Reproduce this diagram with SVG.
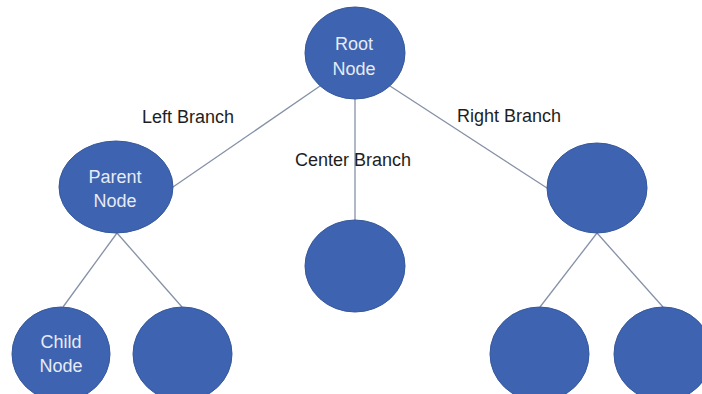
<svg xmlns="http://www.w3.org/2000/svg" width="702" height="394" viewBox="0 0 702 394">
  <style>
    .node { fill: #3e63b0; stroke: #35589c; stroke-width: 1; }
    .node-text { font-family: "Liberation Sans", Arial, sans-serif; font-size: 18px; fill: #e6ebf5; text-anchor: middle; }
    .label { font-family: "Liberation Sans", Arial, sans-serif; font-size: 18px; fill: #1e1e1e; }
    .edge { stroke: #8591a6; stroke-width: 1.3; fill: none; }
  </style>
  <rect width="702" height="394" fill="#ffffff"/>

  <!-- connectors -->
  <g id="connectors">
    <line class="edge" x1="320" y1="86" x2="173" y2="187"/>
    <line class="edge" x1="355" y1="99" x2="355" y2="220"/>
    <line class="edge" x1="390" y1="86" x2="547" y2="188"/>
    <line class="edge" x1="117" y1="233" x2="63" y2="307"/>
    <line class="edge" x1="117" y1="233" x2="182" y2="307"/>
    <line class="edge" x1="597" y1="233" x2="540" y2="307"/>
    <line class="edge" x1="597" y1="233" x2="663" y2="307"/>
  </g>

  <!-- branch labels -->
  <g id="labels">
    <text class="label" x="142" y="123">Left Branch</text>
    <text class="label" x="295" y="166">Center Branch</text>
    <text class="label" x="457" y="122">Right Branch</text>
  </g>

  <g id="root">
    <ellipse class="node" cx="355" cy="53" rx="50" ry="46"/>
    <text class="node-text" x="354" y="50">Root</text>
    <text class="node-text" x="354" y="75">Node</text>
  </g>

  <g id="parent">
    <ellipse class="node" cx="116" cy="187" rx="57" ry="46"/>
    <text class="node-text" x="115" y="183">Parent</text>
    <text class="node-text" x="115" y="207">Node</text>
  </g>

  <g id="center">
    <ellipse class="node" cx="355" cy="266" rx="50" ry="46"/>
  </g>

  <g id="right">
    <ellipse class="node" cx="597" cy="188" rx="50" ry="45"/>
  </g>

  <g id="child-left">
    <ellipse class="node" cx="61" cy="354" rx="49" ry="47"/>
    <text class="node-text" x="61" y="348">Child</text>
    <text class="node-text" x="61" y="372">Node</text>
  </g>

  <g id="child-right">
    <ellipse class="node" cx="182.5" cy="354" rx="49.5" ry="47"/>
  </g>

  <g id="right-child-left">
    <ellipse class="node" cx="539.5" cy="354" rx="49.5" ry="47"/>
  </g>

  <g id="right-child-right">
    <ellipse class="node" cx="663" cy="354" rx="49" ry="47"/>
  </g>
</svg>
